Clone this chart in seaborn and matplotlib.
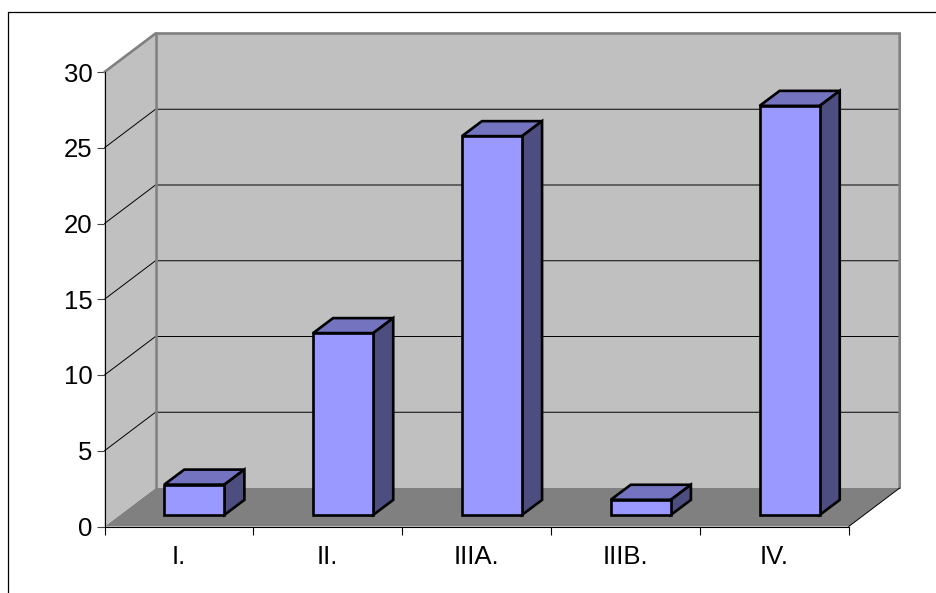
import matplotlib
matplotlib.use("Agg")
import matplotlib.pyplot as plt
import seaborn as sns
from matplotlib.lines import Line2D
from matplotlib.patches import Polygon
from matplotlib.transforms import Affine2D

stages = ["I.", "II.", "IIIA.", "IIIB.", "IV."]
counts = [2, 12, 25, 1, 27]
y_ticks = [0, 5, 10, 15, 20, 25, 30]

sns.set_theme(style="white")
plt.rcParams["font.family"] = ["Liberation Sans", "DejaVu Sans"]

WIDTH, HEIGHT, DPI = 936, 593, 100
fig = plt.figure(figsize=(WIDTH / DPI, HEIGHT / DPI), dpi=DPI, facecolor="white")

# Front plane of the 3D box, in pixels
left, right, top, bottom = 104.5, 848.7, 72.0, 526.5
ax = fig.add_axes([left / WIDTH, 1 - bottom / HEIGHT,
                   (right - left) / WIDTH, (bottom - top) / HEIGHT])
ax.patch.set_visible(False)

EDGE = 1.9
sns.barplot(x=stages, y=counts, width=0.404, color="#9999FF", saturation=1,
            edgecolor="black", linewidth=EDGE, ax=ax, zorder=4)
ax.set_xlim(-0.5, 4.5)
ax.set_ylim(0, 30)

px_x = 5 / (right - left)      # data units per pixel, horizontally
px_y = 30 / (bottom - top)     # data units per pixel, vertically
box_dx, box_dy = 51 * px_x, 38.5 * px_y      # depth of the whole box
seat_dx, seat_dy = 15.4 * px_x, 11.6 * px_y  # bars stand inside the floor
bar_dx, bar_dy = 20 * px_x, 15 * px_y        # depth of each bar

x0, x1 = -0.5, 4.5
wall_kw = dict(clip_on=False, closed=True)

# Floor, left wall and back wall
ax.add_patch(Polygon([(x0, 0), (x1, 0), (x1 + box_dx, box_dy), (x0 + box_dx, box_dy)],
                     facecolor="#808080", edgecolor="none", zorder=0.5, **wall_kw))
ax.add_patch(Polygon([(x0, 0), (x0, 30), (x0 + box_dx, 30 + box_dy), (x0 + box_dx, box_dy)],
                     facecolor="#C0C0C0", edgecolor="none", zorder=0.6, **wall_kw))
ax.add_patch(Polygon([(x0 + box_dx, box_dy), (x0 + box_dx, 30 + box_dy),
                      (x1 + box_dx, 30 + box_dy), (x1 + box_dx, box_dy)],
                     facecolor="#C0C0C0", edgecolor="none", zorder=0.6, **wall_kw))

# Gridlines run across the left wall and along the back wall
for v in y_ticks[1:-1]:
    ax.plot([x0, x0 + box_dx, x1 + box_dx], [v, v + box_dy, v + box_dy],
            color="black", lw=0.7, clip_on=False, zorder=1, solid_joinstyle="miter")

# Wall outline
ax.plot([x0, x0 + box_dx, x1 + box_dx, x1 + box_dx], [30, 30 + box_dy, 30 + box_dy, box_dy],
        color="#808080", lw=1.9, clip_on=False, zorder=1.2, solid_joinstyle="miter")
ax.plot([x0 + box_dx, x0 + box_dx], [box_dy, 30 + box_dy],
        color="#808080", lw=1.9, clip_on=False, zorder=1.2)
ax.plot([x1, x1 + box_dx], [0, box_dy], color="black", lw=0.7, clip_on=False, zorder=1.2)

# Shift the front faces onto the floor, then add the top and side faces
seat = Affine2D().translate(seat_dx, seat_dy) + ax.transData
for bar in list(ax.patches):
    if not hasattr(bar, "get_width"):
        continue
    xa, w, h = bar.get_x(), bar.get_width(), bar.get_height()
    bar.set_transform(seat)
    bar.set_clip_on(False)
    bar.set_joinstyle("miter")
    xb = xa + w
    ax.add_patch(Polygon([(xa, h), (xb, h), (xb + bar_dx, h + bar_dy), (xa + bar_dx, h + bar_dy)],
                         facecolor="#7373BF", edgecolor="black", linewidth=EDGE, joinstyle="miter",
                         transform=seat, zorder=3, **wall_kw))
    ax.add_patch(Polygon([(xb, 0), (xb + bar_dx, bar_dy), (xb + bar_dx, h + bar_dy), (xb, h)],
                         facecolor="#4D4D80", edgecolor="black", linewidth=EDGE, joinstyle="miter",
                         transform=seat, zorder=3, **wall_kw))

# Axes: ticks sit on category boundaries, labels at category centres
sns.despine(ax=ax, top=True, right=True)
for side in ("left", "bottom"):
    ax.spines[side].set_color("black")
    ax.spines[side].set_linewidth(0.8)
    ax.spines[side].set_zorder(1.5)
ax.set_yticks(y_ticks)
ax.set_xticks([i - 0.5 for i in range(len(stages) + 1)])
ax.set_xticklabels([])
ax.set_xticks(range(len(stages)), labels=stages, minor=True)
ax.tick_params(axis="y", which="major", left=True, length=5.8, width=0.8, color="#404040",
               labelsize=18.5, labelcolor="black", pad=3)
ax.tick_params(axis="x", which="major", bottom=True, length=5.8, width=0.8, color="black")
ax.tick_params(axis="x", which="minor", bottom=False, length=0, labelsize=18.5,
               labelcolor="black", pad=13.5)

# Chart frame: only the top and left edges fall inside the image
fig.add_artist(Line2D([7.8 / WIDTH, 7.8 / WIDTH], [1 - 12 / HEIGHT, 0], color="black", lw=0.9))
fig.add_artist(Line2D([7.8 / WIDTH, 1], [1 - 12 / HEIGHT, 1 - 12 / HEIGHT], color="black", lw=0.9))

fig.savefig("out.png", dpi=DPI, facecolor="white")
